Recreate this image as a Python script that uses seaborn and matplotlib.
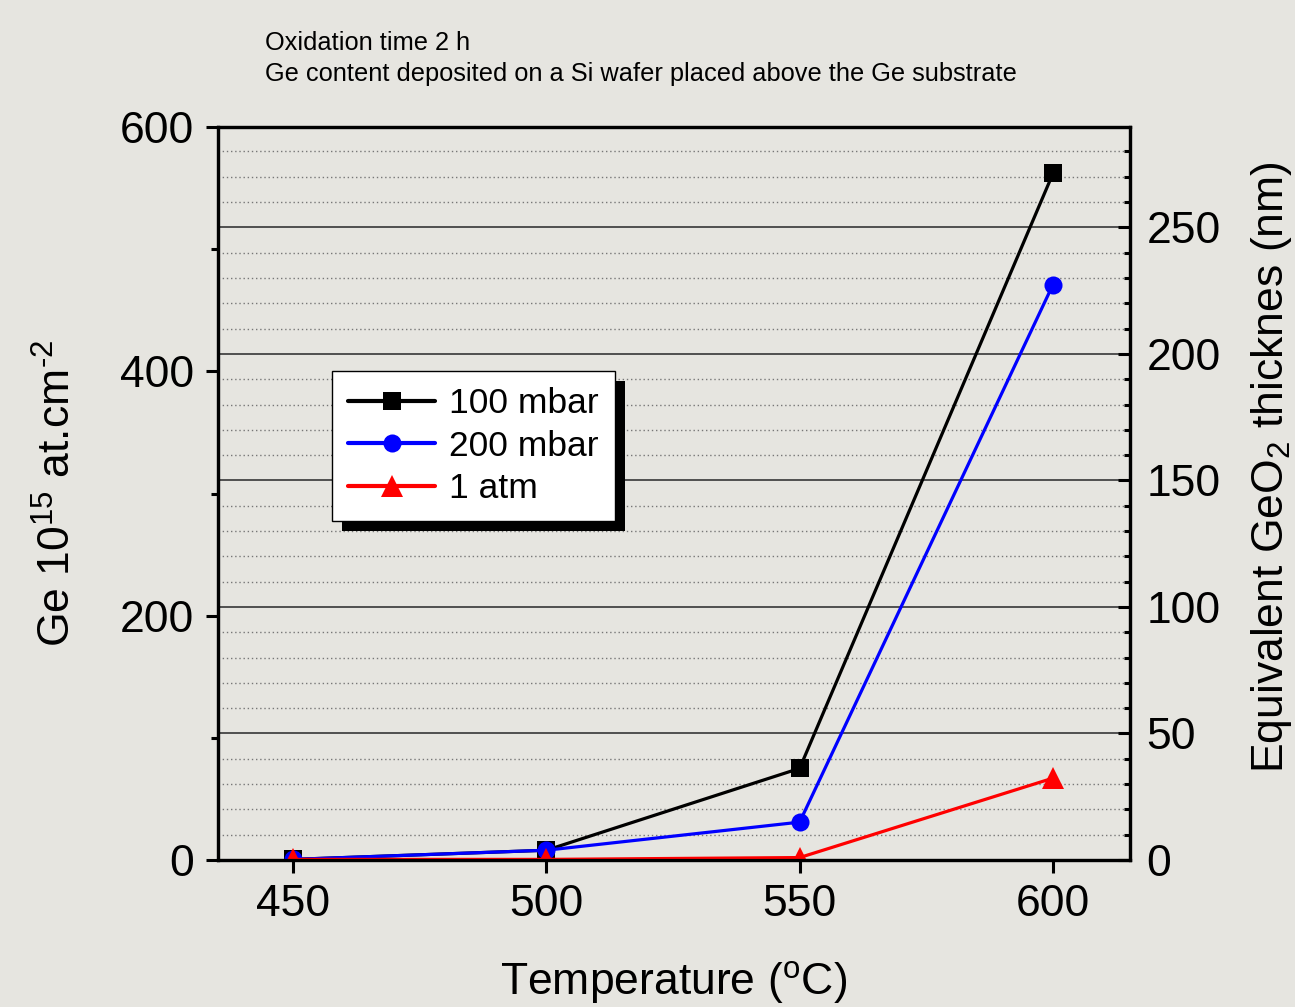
import matplotlib
matplotlib.use('Agg')
import matplotlib.pyplot as plt
from matplotlib.patches import Rectangle
from matplotlib.ticker import MultipleLocator, FixedLocator
import numpy as np
import pandas as pd
import seaborn as sns

# data
temperature = [450, 500, 550, 600]
ge_100mbar = [0.5, 8, 75, 562]
ge_200mbar = [0.5, 8, 31, 471]
ge_1atm = [0.5, 0.5, 2, 67]
pressures = ['100 mbar', '200 mbar', '1 atm']
colors = ['black', 'blue', 'red']
markers = ['s', 'o', '^']
# Ge 1e15 at/cm2 -> equivalent GeO2 thickness (nm)
to_nm = 0.4828

header = ['Oxidation time 2 h',
          'Ge content deposited on a Si wafer placed above the Ge substrate']

bg = '#e6e5e0'
sns.set_style('ticks')
plt.rcParams['font.family'] = ['Liberation Sans', 'DejaVu Sans']
plt.rcParams['mathtext.fontset'] = 'custom'
plt.rcParams['mathtext.rm'] = 'Liberation Sans'
plt.rcParams['mathtext.it'] = 'Liberation Sans:italic'
plt.rcParams['text.color'] = 'black'
plt.rcParams['axes.labelcolor'] = 'black'
plt.rcParams['xtick.color'] = 'black'
plt.rcParams['ytick.color'] = 'black'

df = []
for name, vals in zip(pressures, [ge_100mbar, ge_200mbar, ge_1atm]):
    df.append(pd.DataFrame({'T': temperature, 'Ge': vals, 'p': name}))
df = pd.concat(df, ignore_index=True)

fig = plt.figure(figsize=(12.95, 10.07), dpi=100, facecolor=bg)
ax = fig.add_axes([218/1295, 1-860/1007, 912/1295, 733/1007])
ax2 = ax.twinx()
ax2.set_zorder(ax.get_zorder() - 1)
ax.patch.set_visible(False)
ax2.set_facecolor(bg)

sns.lineplot(data=df, x='T', y='Ge', hue='p', style='p', hue_order=pressures,
             style_order=pressures, palette=colors, markers=markers, dashes=False,
             markersize=13, linewidth=2.3, markeredgewidth=0, legend=False, ax=ax)
ax.lines[2].set_markersize(16)

ax.set_xlim(435.2, 615.2)
ax.set_ylim(0, 600)
ax2.set_ylim(0, 600 * to_nm)
ax.xaxis.set_major_locator(FixedLocator(temperature))
ax.yaxis.set_major_locator(MultipleLocator(200))
ax.yaxis.set_minor_locator(MultipleLocator(100))
ax2.yaxis.set_major_locator(MultipleLocator(50))
ax2.yaxis.set_minor_locator(MultipleLocator(10))

fs = 32
ax.tick_params(axis='both', which='major', direction='out', length=9, width=2.2,
               labelsize=fs, pad=8)
ax.tick_params(axis='y', which='minor', direction='out', length=5, width=2.2)
ax.tick_params(axis='x', which='minor', length=0)
ax.tick_params(axis='y', which='both', right=False)
ax2.tick_params(axis='y', which='major', direction='in', length=9, width=2.2,
                labelsize=fs, pad=12)
ax2.tick_params(axis='y', which='minor', direction='in', length=4, width=2.2)

ax2.grid(which='major', axis='y', color='#444444', linewidth=1.3, linestyle='-')
ax2.grid(which='minor', axis='y', color='#777777', linewidth=1.0, linestyle=(0, (1, 2)))

for a in (ax, ax2):
    for s in a.spines.values():
        s.set_linewidth(2.3)
        s.set_color('black')
        s.set_visible(True)

ax.set_xlabel('Temperature ($^{\\mathrm{o}}$C)', fontsize=fs)
ax.xaxis.set_label_coords(0.5, -0.135)
ax.set_ylabel('Ge 10$^{15}$ at.cm$^{\u2010\\mathrm{2}}$', fontsize=fs)
ax.yaxis.set_label_coords(-0.152, 0.50)
ax2.set_ylabel('Equivalent GeO$_{2}$ thicknes (nm)', fontsize=fs)
ax2.yaxis.set_label_coords(1.13, 0.536)

for i, line in enumerate(header):
    fig.text(265/1295, 1-(31 + 31*i)/1007, line, fontsize=18.3, va='top')

leg = ax.legend(handles=ax.lines[:3], labels=pressures, loc='upper left',
                bbox_to_anchor=(0.125, 0.667), fontsize=25.5, frameon=True,
                fancybox=False, framealpha=1, edgecolor='black',
                handlelength=2.46, handletextpad=0.4, labelspacing=0.27,
                borderpad=0.45, borderaxespad=0)
leg.get_frame().set_linewidth(1.0)
leg.set_zorder(10)
for h in leg.legend_handles:
    h.set_linewidth(3)

fig.canvas.draw()
bb = leg.get_window_extent()
shadow = Rectangle((bb.x0 + 10, bb.y0 - 10), bb.width, bb.height, transform=None,
                   facecolor='black', edgecolor='none', zorder=9)
ax.add_artist(shadow)

plt.savefig('out.png', dpi=100, facecolor=bg)
